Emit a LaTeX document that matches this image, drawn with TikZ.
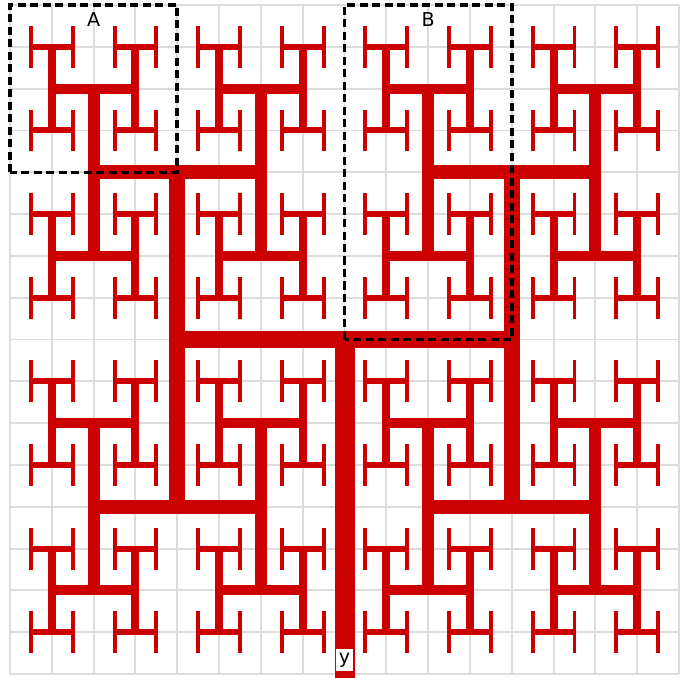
\documentclass[tikz,border=0pt]{standalone}
\usepackage{fontspec}
\setmainfont{DejaVu Sans}
\usepackage{xcolor}
\usepackage{tikz}
\usetikzlibrary{positioning,calc}
\definecolor{treered}{RGB}{204,0,0}
\definecolor{gridgray}{RGB}{220,220,220}
\tikzset{
  gridline/.style={draw=gridgray, line width=1.3pt},
  branch/.style={draw=treered, line width=#1, line cap=butt},
  region/.style={draw=black, line width=2.4pt, dash pattern=on 5.5pt off 3pt},
  tag/.style={font=\fontsize{13}{15}\selectfont, inner sep=1pt},
  rootlabel/.style={tag, fill=white, inner sep=0.5pt, minimum width=11pt, minimum height=15pt}
}

\begin{document}
\begin{tikzpicture}[x=1cm, y=1cm]
  \useasboundingbox (-0.239,-0.072) rectangle (16.215,16.12);
  \draw[gridline] (0,0) grid (16,16);
  % trunk and first split
  \draw[branch=13.6pt] (8,-0.2) -- (8,8);
  \draw[branch=12.2pt] (4,8) -- (12,8);
  % level 2 and 3
  \foreach \x in {4,12} {
    \draw[branch=10.8pt] (\x,4) -- (\x,12);
    \foreach \y in {4,12}
      \draw[branch=9.5pt] (\x-2,\y) -- (\x+2,\y);
  }
  % level 4 and 5
  \foreach \x in {2,6,10,14} {
    \foreach \y in {4,12}
      \draw[branch=8.1pt] (\x,\y-2) -- (\x,\y+2);
    \foreach \y in {2,6,10,14}
      \draw[branch=6.8pt] (\x-1,\y) -- (\x+1,\y);
  }
  % level 6 and 7
  \foreach \x in {1,3,...,15} {
    \foreach \y in {2,6,10,14}
      \draw[branch=5.4pt] (\x,\y-1) -- (\x,\y+1);
    \foreach \y in {1,3,...,15}
      \draw[branch=4.1pt] (\x-0.5,\y) -- (\x+0.5,\y);
  }
  % last tips
  \foreach \x in {0.5,1.5,...,15.5}
    \foreach \y in {1,3,...,15}
      \draw[branch=2.7pt] (\x,\y-0.5) -- (\x,\y+0.5);
  % marked regions
  \draw[region] (0,12) rectangle (4,16);
  \draw[region] (8,8) rectangle (12,16);
  \node[tag] (tagA) at (2,15.65) {A};
  \node[tag] (tagB) at (10,15.65) {B};
  \node[rootlabel] (root) at (8,0.34) {y};
\end{tikzpicture}
\end{document}
